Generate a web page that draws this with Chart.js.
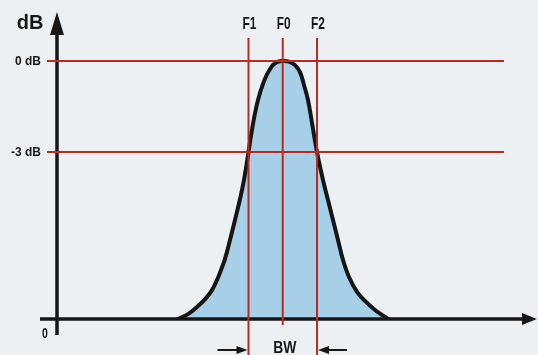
<!DOCTYPE html>
<html><head><meta charset="utf-8">
<script src="https://cdn.jsdelivr.net/npm/chart.js@4"></script>
<style>html,body{margin:0;padding:0;background:#edf0f2;}canvas{display:block}</style>
</head>
<body><canvas id="c" width="538" height="355"></canvas>
<script>
// ---- data ----
const freq = [-3.058,-2.766,-2.474,-2.241,-2.066,-1.920,-1.803,-1.686,-1.540,-1.394,-1.248,-1.131,-1.0,-0.869,-0.723,-0.547,-0.372,-0.197,0.007,0.182,0.358,0.504,0.620,0.737,0.854,1.0,1.175,1.321,1.467,1.613,1.759,1.934,2.168,2.401,2.693,3.073];
const response = [0,0.019,0.050,0.081,0.112,0.151,0.190,0.233,0.306,0.384,0.465,0.539,0.647,0.756,0.849,0.922,0.969,0.994,1.0,0.998,0.984,0.957,0.907,0.849,0.760,0.647,0.539,0.461,0.384,0.306,0.229,0.163,0.105,0.070,0.035,0];
const markerLabels = ['F1','F0','F2'];
const markerFreqs = [-1, 0, 1];
const levelLabels = ['0 dB','-3 dB'];
const levelValues = [1, 0.647];
const baseLabel = '0';
const axisTitle = 'dB';
const bandLabel = 'BW';

const RED = '#bd2a1f', INK = '#161616';
const wide = "'Liberation Sans',Arial,sans-serif";

function narrowText(ctx, txt, px, py, scale) {
  ctx.save(); ctx.translate(px, py); ctx.scale(scale, 1); ctx.fillText(txt, 0, 0); ctx.restore();
}

const deco = {
  id: 'deco',
  beforeDraw(chart) {
    const {ctx} = chart;
    ctx.save(); ctx.fillStyle = '#edf0f2'; ctx.fillRect(0,0,chart.width,chart.height); ctx.restore();
  },
  afterDatasetsDraw(chart) {
    const {ctx, chartArea: a, scales: {x, y}} = chart;
    const X = v => x.getPixelForValue(v), Y = v => y.getPixelForValue(v);
    const y0 = Y(0);
    ctx.save();
    // axes
    ctx.strokeStyle = INK; ctx.fillStyle = INK; ctx.lineWidth = 3.5; ctx.lineCap = 'butt';
    ctx.beginPath(); ctx.moveTo(a.left - 17, y0); ctx.lineTo(a.right - 12, y0); ctx.stroke();
    ctx.beginPath(); ctx.moveTo(a.right, y0); ctx.lineTo(a.right - 15, y0 - 6); ctx.lineTo(a.right - 15, y0 + 6); ctx.closePath(); ctx.fill();
    ctx.beginPath(); ctx.moveTo(a.left, y0 + 16); ctx.lineTo(a.left, a.top + 20); ctx.stroke();
    ctx.beginPath(); ctx.moveTo(a.left, a.top); ctx.lineTo(a.left - 7, a.top + 23); ctx.lineTo(a.left + 7, a.top + 23); ctx.closePath(); ctx.fill();
    // red guide lines
    ctx.strokeStyle = RED; ctx.lineWidth = 2;
    levelValues.forEach(v => {
      ctx.beginPath(); ctx.moveTo(a.left - 10, Y(v)); ctx.lineTo(X(6.46), Y(v)); ctx.stroke();
    });
    markerFreqs.forEach((f, i) => {
      const bottom = f === 0 ? y0 + 6 : chart.height;
      ctx.beginPath(); ctx.moveTo(X(f), Y(1.089)); ctx.lineTo(X(f), bottom); ctx.stroke();
    });
    // texts
    ctx.fillStyle = INK; ctx.textBaseline = 'middle';
    ctx.font = "bold 20px " + wide; ctx.textAlign = 'center';
    ctx.fillText(axisTitle, a.left - 27, a.top + 11);
    ctx.textAlign = 'right';
    ctx.font = "bold 13px " + wide;
    levelValues.forEach((v, i) => narrowText(ctx, levelLabels[i], a.left - 16, Y(v), 0.92));
    ctx.textAlign = 'center';
    ctx.font = "bold 14px " + wide;
    narrowText(ctx, baseLabel, a.left - 12, y0 + 15, 0.75);
    ctx.font = "bold 17px " + wide;
    markerFreqs.forEach((f, i) => narrowText(ctx, markerLabels[i], X(f) + 1, a.top + 12, 0.7));
    const x1 = X(markerFreqs[0]), x2 = X(markerFreqs[2]);
    ctx.font = "bold 17px " + wide;
    narrowText(ctx, bandLabel, (x1 + x2) / 2 + 2, y0 + 29, 0.82);
    // BW arrows
    const ya = y0 + 31;
    ctx.lineWidth = 2; ctx.strokeStyle = INK;
    ctx.beginPath(); ctx.moveTo(x1 - 31, ya); ctx.lineTo(x1 - 8, ya); ctx.stroke();
    ctx.beginPath(); ctx.moveTo(x1 - 1, ya); ctx.lineTo(x1 - 12, ya - 4); ctx.lineTo(x1 - 12, ya + 4); ctx.closePath(); ctx.fill();
    ctx.beginPath(); ctx.moveTo(x2 + 30, ya); ctx.lineTo(x2 + 8, ya); ctx.stroke();
    ctx.beginPath(); ctx.moveTo(x2 + 1, ya); ctx.lineTo(x2 + 12, ya - 4); ctx.lineTo(x2 + 12, ya + 4); ctx.closePath(); ctx.fill();
    ctx.restore();
  }
};

new Chart(document.getElementById('c'), {
  type: 'line',
  data: {
    datasets: [{
      data: freq.map((f, i) => ({x: f, y: response[i]})),
      borderColor: INK,
      borderWidth: 4,
      backgroundColor: '#a7cfe8',
      fill: 'origin',
      pointRadius: 0,
      tension: 0.4,
      borderJoinStyle: 'round',
      borderCapStyle: 'round'
    }]
  },
  options: {
    responsive: false,
    devicePixelRatio: 1,
    animation: false,
    layout: {padding: {left: 57, right: 1, top: 12, bottom: 36}},
    plugins: {legend: {display: false}, tooltip: {enabled: false}, title: {display: false}},
    scales: {
      x: {type: 'linear', min: -6.591, max: 7.423, display: false},
      y: {type: 'linear', min: 0, max: 1.19, display: false}
    }
  },
  plugins: [deco]
});
</script>
</body></html>
